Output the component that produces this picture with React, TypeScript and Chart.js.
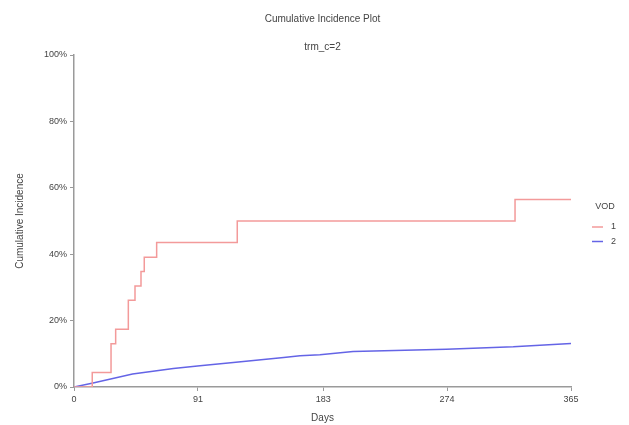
import React, { useEffect, useRef } from "react";
import { Chart, registerables } from "chart.js";

Chart.register(...registerables);

// Cumulative incidence, VOD = 1 (step function: day of event, incidence % after event)
const vod1Days = [0, 13.4, 27.2, 30.6, 39.9, 44.8, 49.2, 51.6, 60.7, 119.9, 323.9, 365];
const vod1Incidence = [0, 4.35, 13.0, 17.4, 26.1, 30.4, 34.8, 39.1, 43.5, 50.0, 56.5, 56.5];

// Cumulative incidence, VOD = 2
const vod2Days = [0, 14, 43, 73, 92.5, 117, 154, 166, 180.6, 205, 273.5, 322.6, 365];
const vod2Incidence = [0, 1.2, 3.9, 5.6, 6.4, 7.4, 8.9, 9.4, 9.7, 10.7, 11.4, 12.1, 13.1];

const dayTicks = [0, 91, 183, 274, 365];
const groupLabels = ["1", "2"];
const groupColors = ["#F39A9A", "#6464E6"];

const plotTitle = "Cumulative Incidence Plot";
const plotSubtitle = "trm_c=2";
const legendTitle = "VOD";

const FONT = "'Liberation Sans', Arial, sans-serif";
const TEXT = "#444";
const AXIS = "#9a9a9a";

// Titles and the right-hand legend, drawn on the canvas
const annotations = {
  id: "annotations",
  afterDraw(chart: any) {
    const { ctx, chartArea } = chart;
    const cx = (chartArea.left + chartArea.right) / 2;
    ctx.save();
    ctx.fillStyle = TEXT;
    ctx.textAlign = "center";
    ctx.textBaseline = "middle";
    ctx.font = `10px ${FONT}`;
    ctx.fillText(plotTitle, cx, 19);
    ctx.fillText(plotSubtitle, cx, 47);

    ctx.font = `9px ${FONT}`;
    ctx.fillText(legendTitle, 605, 207);
    chart.data.datasets.forEach((ds: any, i: number) => {
      const y = 227 + i * 14.5;
      ctx.strokeStyle = ds.borderColor;
      ctx.lineWidth = 1.5;
      ctx.beginPath();
      ctx.moveTo(592, y);
      ctx.lineTo(603, y);
      ctx.stroke();
      ctx.fillStyle = TEXT;
      ctx.textAlign = "left";
      ctx.fillText(ds.label, 611, y);
    });
    ctx.restore();
  },
};

export default function App() {
  const ref = useRef<HTMLCanvasElement>(null);

  useEffect(() => {
    if (!ref.current) return;
    const chart = new Chart(ref.current, {
      type: "line",
      data: {
        datasets: [
          {
            label: groupLabels[0],
            data: vod1Days.map((d, i) => ({ x: d, y: vod1Incidence[i] })),
            borderColor: groupColors[0],
            borderWidth: 1.5,
            pointRadius: 0,
            stepped: "before",
            fill: false,
          },
          {
            label: groupLabels[1],
            data: vod2Days.map((d, i) => ({ x: d, y: vod2Incidence[i] })),
            borderColor: groupColors[1],
            borderWidth: 1.5,
            pointRadius: 0,
            tension: 0,
            fill: false,
          },
        ],
      },
      options: {
        animation: false,
        responsive: false,
        layout: { padding: { top: 55, right: 58, bottom: 0, left: 0 } },
        plugins: {
          legend: { display: false },
          tooltip: { enabled: false },
          title: { display: false },
        },
        scales: {
          x: {
            type: "linear",
            min: 0,
            max: 365,
            afterBuildTicks: (scale: any) => {
              scale.ticks = dayTicks.map((v) => ({ value: v }));
            },
            afterFit: (scale: any) => {
              scale.height = 38;
            },
            grid: {
              display: true,
              drawOnChartArea: false,
              drawTicks: true,
              tickLength: 4,
              color: AXIS,
            },
            border: { display: true, color: AXIS, width: 1.5 },
            ticks: {
              padding: 3,
              maxRotation: 0,
              autoSkip: false,
              color: TEXT,
              font: { family: FONT, size: 9 },
            },
            title: {
              display: true,
              text: "Days",
              color: TEXT,
              font: { family: FONT, size: 10 },
              padding: { top: 0, bottom: 1 },
            },
          },
          y: {
            type: "linear",
            min: 0,
            max: 100,
            afterFit: (scale: any) => {
              scale.width = 74;
            },
            grid: {
              display: true,
              drawOnChartArea: false,
              drawTicks: true,
              tickLength: 4,
              color: AXIS,
            },
            border: { display: true, color: AXIS, width: 1.5 },
            ticks: {
              stepSize: 20,
              padding: 3,
              color: TEXT,
              font: { family: FONT, size: 9 },
              callback: (v: any) => `${v}%`,
            },
            title: {
              display: true,
              text: "Cumulative Incidence",
              color: TEXT,
              font: { family: FONT, size: 10 },
              padding: { top: 14, bottom: 0 },
            },
          },
        },
      },
      plugins: [annotations],
    });
    return () => chart.destroy();
  }, []);

  return (
    <div style={{ position: "fixed", left: 0, top: 0, width: 629, height: 425, background: "#fff" }}>
      <canvas ref={ref} width={629} height={425} style={{ display: "block" }} />
    </div>
  );
}
